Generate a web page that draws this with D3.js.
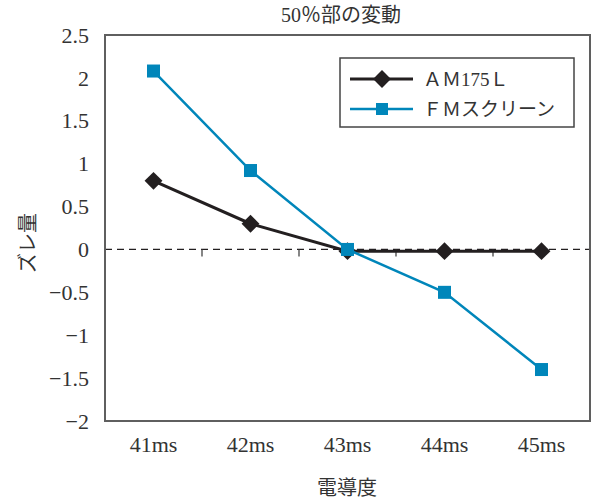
<!DOCTYPE html>
<html>
<head>
<meta charset="utf-8">
<script src="https://cdn.jsdelivr.net/npm/d3@7"></script>
<style>
  body { margin: 0; background: #fff; }
  svg text { font-family: "Liberation Serif", "Noto Sans CJK JP", serif; fill: #333; }
</style>
</head>
<body>
<svg id="chart" width="592" height="499"></svg>
<script>
// Conductivity settings on the x axis
const categories = ["41ms", "42ms", "43ms", "44ms", "45ms"];
// Deviation at the 50% dot area for each screen type
const amValues = [0.80, 0.30, -0.02, -0.02, -0.02];
const fmValues = [2.08, 0.92, 0.00, -0.50, -1.40];
const yTicks = [2.5, 2, 1.5, 1, 0.5, 0, -0.5, -1, -1.5, -2];
const seriesNames = ["ＡＭ175Ｌ", "ＦＭスクリーン"];

const svg = d3.select("#chart");
const plot = { left: 105, right: 590, top: 35, bottom: 421 };

const x = d3.scaleBand().domain(categories).range([plot.left, plot.right]);
const y = d3.scaleLinear().domain([-2, 2.5]).range([plot.bottom, plot.top]);

const blue = "#0086BA";
const black = "#231F20";

// Title
svg.append("text").attr("x", 341).attr("y", 22).attr("text-anchor", "middle")
  .attr("font-size", 20).text("50％部の変動");

// Y tick labels
svg.append("g").selectAll("text").data(yTicks).join("text")
  .attr("x", 89).attr("y", d => y(d)).attr("dy", "0.35em")
  .attr("text-anchor", "end").attr("font-size", 22)
  .text(d => d < 0 ? "\u2212" + Math.abs(d) : d);

// X tick labels
svg.append("g").selectAll("text").data(categories).join("text")
  .attr("x", d => x(d) + x.bandwidth() / 2).attr("y", 452)
  .attr("text-anchor", "middle").attr("font-size", 22).text(d => d);

// Axis titles
svg.append("text").attr("transform", "translate(35,243) rotate(-90)")
  .attr("text-anchor", "middle").attr("font-size", 20).attr("fill", "#333").text("ズレ量");
svg.append("text").attr("x", 347).attr("y", 495).attr("text-anchor", "middle")
  .attr("font-size", 20).text("電導度");

// Zero reference line with category boundary ticks
svg.append("line").attr("x1", plot.left).attr("x2", plot.right)
  .attr("y1", y(0)).attr("y2", y(0))
  .attr("stroke", black).attr("stroke-width", 1.3).attr("stroke-dasharray", "7,5");
svg.append("g").selectAll("line").data(categories.slice(1)).join("line")
  .attr("x1", d => x(d)).attr("x2", d => x(d))
  .attr("y1", y(0)).attr("y2", y(0) + 7)
  .attr("stroke", "#444").attr("stroke-width", 1.3);

// Plot frame
svg.append("rect").attr("x", plot.left).attr("y", plot.top)
  .attr("width", plot.right - plot.left).attr("height", plot.bottom - plot.top)
  .attr("fill", "none").attr("stroke", "#5f5f5f").attr("stroke-width", 2);

const cx = d => x(d) + x.bandwidth() / 2;
const line = d3.line().x(d => cx(d[0])).y(d => y(d[1]));

const amData = categories.map((c, i) => [c, amValues[i]]);
const fmData = categories.map((c, i) => [c, fmValues[i]]);

const diamond = d3.symbol().type(d3.symbolSquare).size(160);

// AM series
svg.append("path").datum(amData).attr("d", line)
  .attr("fill", "none").attr("stroke", black).attr("stroke-width", 3);
svg.append("g").selectAll("path").data(amData).join("path")
  .attr("d", diamond)
  .attr("transform", d => `translate(${cx(d[0])},${y(d[1])}) rotate(45)`)
  .attr("fill", black);

// FM series
svg.append("path").datum(fmData).attr("d", line)
  .attr("fill", "none").attr("stroke", blue).attr("stroke-width", 2.5);
svg.append("g").selectAll("rect").data(fmData).join("rect")
  .attr("x", d => cx(d[0]) - 6.5).attr("y", d => y(d[1]) - 6.5)
  .attr("width", 13).attr("height", 13).attr("fill", blue);

// Legend
const lg = svg.append("g");
lg.append("rect").attr("x", 340).attr("y", 58).attr("width", 234).attr("height", 69)
  .attr("fill", "#fff").attr("stroke", "#444").attr("stroke-width", 1.5);
const rows = [
  { name: seriesNames[0], color: black, w: 3, yy: 79, marker: "diamond" },
  { name: seriesNames[1], color: blue, w: 2.5, yy: 109, marker: "square" }
];
rows.forEach(r => {
  lg.append("line").attr("x1", 350).attr("x2", 413).attr("y1", r.yy).attr("y2", r.yy)
    .attr("stroke", r.color).attr("stroke-width", r.w);
  if (r.marker === "diamond") {
    lg.append("path").attr("d", diamond)
      .attr("transform", `translate(382,${r.yy}) rotate(45)`).attr("fill", r.color);
  } else {
    lg.append("rect").attr("x", 382 - 6).attr("y", r.yy - 6)
      .attr("width", 12).attr("height", 12).attr("fill", r.color);
  }
  lg.append("text").attr("x", 423).attr("y", r.yy).attr("dy", "0.35em")
    .attr("font-size", 19).text(r.name);
});
</script>
</body>
</html>
